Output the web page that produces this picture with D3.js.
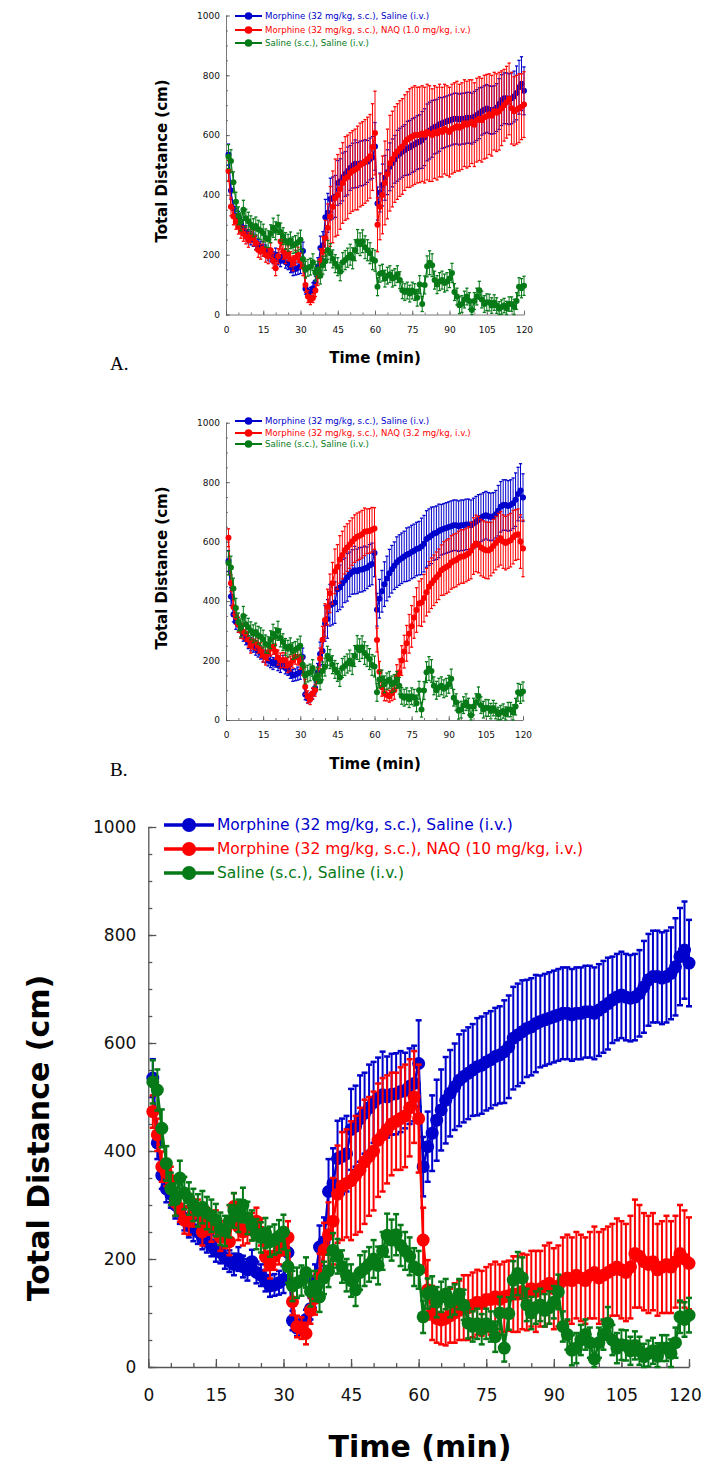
<!DOCTYPE html>
<html>
<head>
<meta charset="utf-8">
<script src="https://cdn.jsdelivr.net/npm/d3@7"></script>
<style>
  body { margin: 0; background: #fff; }
  svg { display: block; }
  text { font-family: "DejaVu Sans", sans-serif; }
</style>
</head>
<body>
<div id="chart"></div>
<script>
// minutes of the session, one bin per minute
var minutes = d3.range(1, 121);

var blueMean = [535,415,355,330,320,300,290,275,262,255,
  250,240,232,225,215,212,202,196,190,200,
  186,180,195,175,170,160,150,152,156,162,
  212,86,72,76,88,108,160,222,232,325,
  340,386,390,395,440,446,460,470,480,490,
  498,504,500,505,506,510,512,520,525,562,
  371,408,433,457,476,494,507,519,531,538,
  544,550,556,559,565,569,575,578,584,593,
  609,615,621,627,630,636,640,643,646,649,
  652,655,655,652,655,655,658,658,655,661,
  667,673,680,685,689,685,683,685,692,704,
  717,723,723,720,723,729,741,760,772,748];
var blueSem = [35,30,25,25,25,25,25,22,22,22,
  22,22,20,20,20,20,20,20,20,22,
  20,20,22,20,20,20,20,20,22,25,
  30,18,15,15,18,20,30,40,45,60,
  65,70,70,70,75,75,80,75,80,75,
  75,80,75,75,75,75,70,70,70,80,
  55,65,70,75,75,80,80,80,85,85,
  85,85,90,90,90,90,90,90,95,95,
  95,95,95,90,90,90,85,85,85,85,
  85,85,85,85,85,85,85,85,85,85,
  85,85,80,80,80,80,80,80,80,85,
  85,85,85,85,85,85,90,90,90,80];

var greenMean = [528,513,442,377,330,310,350,322,312,300,
  290,296,285,280,272,256,252,270,290,280,
  300,276,262,246,240,248,232,236,242,250,
  186,150,156,160,175,140,150,130,165,178,
  216,205,186,170,160,143,175,182,190,200,
  188,215,244,235,245,225,215,205,185,180,
  93,136,140,120,130,135,120,125,135,115,
  81,75,80,70,80,75,56,100,35,99,
  161,173,165,115,100,110,115,105,110,120,
  139,75,60,31,35,50,60,45,15,45,
  60,81,50,35,41,40,30,40,30,19,
  25,30,20,35,35,25,45,93,88,96];
var greenSem = [40,38,35,32,30,30,32,30,30,30,
  30,30,30,30,30,30,28,30,32,30,
  32,30,28,28,28,28,28,28,30,32,
  30,28,28,28,28,28,28,28,30,30,
  32,32,30,30,30,30,32,32,32,35,
  35,35,40,38,38,38,35,35,35,35,
  30,28,28,28,28,28,28,28,28,28,
  28,28,28,28,28,28,28,30,25,30,
  35,40,38,30,30,30,30,30,30,30,
  32,28,28,28,28,28,28,28,25,28,
  28,30,28,28,28,28,26,26,26,24,
  24,24,24,24,24,26,28,30,32,32];

// NAQ 1.0 mg/kg (panel A)
var naq1Mean = [480,360,328,310,294,280,270,261,250,265,
  255,240,216,210,220,200,195,215,180,155,
  195,244,210,195,205,185,171,190,200,180,
  160,99,60,48,55,80,127,180,210,255,
  290,328,360,390,400,420,440,455,460,473,
  480,485,490,500,505,512,520,529,560,607,
  300,360,400,440,470,506,520,535,545,555,
  562,575,585,590,595,600,600,601,605,600,
  610,605,600,610,605,615,610,620,615,610,
  620,625,630,625,630,640,635,640,645,635,
  650,655,650,660,663,670,665,680,675,680,
  690,700,710,721,690,680,685,690,695,702];
var naq1Sem = [35,30,28,25,25,25,25,25,25,25,
  25,25,25,25,25,25,25,25,25,25,
  25,25,25,25,25,25,25,25,25,25,
  30,25,20,15,15,20,30,40,50,60,
  80,100,120,130,135,135,135,140,140,135,
  135,135,140,140,140,140,140,140,145,140,
  90,110,130,140,150,160,160,160,160,160,
  160,160,160,165,165,165,160,160,160,160,
  160,160,155,155,155,155,150,150,150,150,
  150,150,150,145,145,145,145,145,140,140,
  140,140,140,140,140,135,135,130,130,130,
  125,120,120,120,120,115,115,115,110,110];

// NAQ 3.2 mg/kg (panel B)
var naq32Mean = [613,460,380,347,320,300,297,290,270,250,
  263,260,250,235,220,210,225,240,246,230,
  210,200,202,200,185,190,200,213,210,195,
  180,112,78,70,90,100,150,207,270,336,
  380,426,460,500,515,540,555,571,580,590,
  600,610,616,620,625,633,635,636,640,644,
  269,162,110,90,84,80,90,100,146,160,
  200,230,258,290,315,345,370,392,395,410,
  430,448,460,470,480,490,504,510,515,520,
  530,535,538,545,550,550,555,560,570,585,
  594,590,580,575,571,570,575,585,595,605,
  611,600,595,600,605,615,622,625,600,577];
var naq32Sem = [30,28,25,25,25,25,25,25,25,25,
  25,25,25,25,25,25,25,25,25,25,
  25,25,25,25,25,25,25,25,25,25,
  30,25,20,18,18,20,25,35,45,55,
  60,65,70,75,75,80,80,80,80,80,
  80,80,80,80,80,80,75,75,75,70,
  40,35,30,25,20,20,25,30,40,45,
  50,55,60,65,70,70,75,75,80,80,
  80,85,85,85,85,85,85,90,90,90,
  90,90,90,90,90,90,90,90,95,95,
  95,95,95,95,95,95,90,90,90,90,
  90,90,90,90,90,90,85,85,90,95];

// NAQ 10 mg/kg (panel C)
var naq10Mean = [473,430,371,360,346,305,294,272,270,285,
  285,250,270,257,265,240,245,232,297,260,
  250,254,260,270,250,204,189,205,215,232,
  240,121,75,72,62,105,127,170,217,245,
  270,320,335,340,345,355,365,380,390,400,
  420,430,440,450,455,460,465,480,500,460,
  235,143,100,90,87,90,95,100,105,110,
  110,115,120,118,125,125,130,125,130,132,
  135,135,140,138,145,140,145,150,155,145,
  150,160,165,160,170,165,160,170,175,165,
  170,175,180,185,180,175,185,210,205,195,
  190,195,180,185,190,185,195,210,200,192];
var naq10Sem = [30,30,28,25,25,25,25,25,25,25,
  25,25,25,25,25,25,25,25,25,25,
  25,25,25,25,25,25,25,25,25,25,
  30,25,20,20,20,25,30,40,50,60,
  80,90,100,100,110,110,115,115,110,110,
  105,105,100,95,90,95,95,90,85,100,
  60,55,50,45,45,50,50,55,55,60,
  60,60,60,60,60,65,65,65,65,65,
  70,70,70,70,70,75,70,75,75,75,
  75,80,80,80,80,80,80,80,85,85,
  85,85,85,90,90,90,95,100,95,90,
  90,90,85,85,90,85,85,90,90,85];

var yTicks = [0, 200, 400, 600, 800, 1000];
var xTicks = [0, 15, 30, 45, 60, 75, 90, 105, 120];

var blueLabel = "Morphine (32 mg/kg, s.c.), Saline (i.v.)";
var greenLabel = "Saline (s.c.), Saline (i.v.)";
var redLabels = ["Morphine (32 mg/kg, s.c.), NAQ (1.0 mg/kg, i.v.)",
  "Morphine (32 mg/kg, s.c.), NAQ (3.2 mg/kg, i.v.)",
  "Morphine (32 mg/kg, s.c.), NAQ (10 mg/kg, i.v.)"];

var BLUE = "#0000cc", RED = "#ff0000", GREEN = "#067a17";

var svg = d3.select("#chart").append("svg")
  .attr("width", 703).attr("height", 1465);

function drawPanel(p, redMean, redSem, redLabel) {
  var x = d3.scaleLinear().domain([0, 120]).range([p.left, p.right]);
  var y = d3.scaleLinear().domain([0, 1000]).range([p.bottom, p.top]);
  var g = svg.append("g");

  // minor ticks first
  g.append("g").attr("transform", "translate(" + p.left + ",0)")
    .call(d3.axisLeft(y).tickValues(d3.range(0, 1001, 50)).tickSize(-p.minor).tickSizeOuter(0).tickFormat(""))
    .call(a => a.select(".domain").remove());
  g.append("g").attr("transform", "translate(0," + p.bottom + ")")
    .call(d3.axisBottom(x).tickValues(d3.range(0, 121, 5)).tickSize(-p.minor).tickSizeOuter(0).tickFormat(""))
    .call(a => a.select(".domain").remove());

  var ya = g.append("g").attr("transform", "translate(" + p.left + ",0)")
    .call(d3.axisLeft(y).tickValues(yTicks).tickSize(-p.major).tickSizeOuter(0)
      .tickPadding(p.ypad).tickFormat(d3.format("d")));
  var xa = g.append("g").attr("transform", "translate(0," + p.bottom + ")")
    .call(d3.axisBottom(x).tickValues(xTicks).tickSize(-p.major).tickSizeOuter(0)
      .tickPadding(p.xpad).tickFormat(d3.format("d")));
  g.selectAll(".tick line, .domain").attr("stroke", "#555").attr("stroke-width", p.axisW);
  ya.selectAll("text").style("font-size", p.tickFs + "px").attr("fill", "#111");
  xa.selectAll("text").style("font-size", p.tickFs + "px").attr("fill", "#111");
  if (p.lastDx) xa.selectAll("text").filter(d => d === 120).attr("dx", p.lastDx);

  var series = [
    {mean: blueMean, sem: blueSem, color: BLUE},
    {mean: redMean, sem: redSem, color: RED},
    {mean: greenMean, sem: greenSem, color: GREEN}
  ];
  var line = d3.line().x((d, i) => x(minutes[i])).y(d => y(d));

  series.forEach(function(s) {
    var sg = g.append("g");
    var pts = minutes.map((m, i) => ({t: m, v: s.mean[i], e: s.sem[i]}));
    var eb = sg.selectAll(".eb").data(pts).enter().append("g");
    eb.append("line")
      .attr("x1", d => x(d.t)).attr("x2", d => x(d.t))
      .attr("y1", d => y(d.v + d.e)).attr("y2", d => y(Math.max(0, d.v - d.e)))
      .attr("stroke", s.color).attr("stroke-width", p.barW);
    eb.append("line")
      .attr("x1", d => x(d.t) - p.cap).attr("x2", d => x(d.t) + p.cap)
      .attr("y1", d => y(d.v + d.e)).attr("y2", d => y(d.v + d.e))
      .attr("stroke", s.color).attr("stroke-width", p.capW);
    eb.append("line")
      .attr("x1", d => x(d.t) - p.cap).attr("x2", d => x(d.t) + p.cap)
      .attr("y1", d => y(Math.max(0, d.v - d.e))).attr("y2", d => y(Math.max(0, d.v - d.e)))
      .attr("stroke", s.color).attr("stroke-width", p.capW);
    sg.append("path").datum(s.mean)
      .attr("fill", "none").attr("stroke", s.color).attr("stroke-width", p.lineW)
      .attr("d", line);
    sg.selectAll("circle").data(pts).enter().append("circle")
      .attr("cx", d => x(d.t)).attr("cy", d => y(d.v)).attr("r", p.r)
      .attr("fill", s.color);
  });

  // legend
  var labels = [blueLabel, redLabel, greenLabel];
  var colors = [BLUE, RED, GREEN];
  labels.forEach(function(lab, i) {
    var ly = p.legY[i];
    g.append("line").attr("x1", p.legX[0]).attr("x2", p.legX[1])
      .attr("y1", ly).attr("y2", ly).attr("stroke", colors[i]).attr("stroke-width", p.legW);
    g.append("circle").attr("cx", (p.legX[0] + p.legX[1]) / 2).attr("cy", ly)
      .attr("r", p.legR).attr("fill", colors[i]);
    g.append("text").attr("x", p.legX[1] + 3).attr("y", ly).attr("dy", "0.35em")
      .style("font-size", p.legFs + "px").attr("fill", colors[i]).text(lab);
  });

  // axis titles
  g.append("text")
    .attr("transform", "translate(" + p.yTitle[0] + "," + p.yTitle[1] + ") rotate(-90)")
    .attr("text-anchor", "middle").attr("dy", "0.35em")
    .style("font-size", p.titleFs + "px").style("font-weight", "bold")
    .text("Total Distance (cm)");
  g.append("text")
    .attr("x", p.xTitle[0]).attr("y", p.xTitle[1])
    .attr("text-anchor", "middle")
    .style("font-size", p.titleFs + "px").style("font-weight", "bold")
    .text("Time (min)");
  if (p.tag) {
    g.append("text").attr("x", p.tag[0]).attr("y", p.tag[1])
      .style("font-family", "'Liberation Serif', serif").style("font-size", "19px")
      .text(p.tag[2]);
  }
}

var small = {minor: 2, major: 4, axisW: 0.8, ypad: 6, xpad: 12, tickFs: 9,
  barW: 1, capW: 1.3, cap: 1.6, lineW: 1.2, r: 3,
  legX: [235, 262], legW: 2, legR: 3.8, legFs: 8.6, titleFs: 15, left: 226, right: 524};

drawPanel(Object.assign({}, small, {top: 15.5, bottom: 314.5,
  legY: [16, 30, 43], yTitle: [162, 161], xTitle: [375, 363], tag: [110, 370, "A."]}),
  naq1Mean, naq1Sem, redLabels[0]);

drawPanel(Object.assign({}, small, {top: 422.7, bottom: 720, right: 523,
  legY: [421, 433, 444], yTitle: [162, 568], xTitle: [375, 769], tag: [110, 776, "B."]}),
  naq32Mean, naq32Sem, redLabels[1]);

drawPanel({left: 148.3, right: 689, top: 827, bottom: 1367,
  minor: 4, major: 8, axisW: 1.3, ypad: 12, xpad: 22, tickFs: 17, lastDx: -4,
  barW: 2, capW: 2.5, cap: 3, lineW: 2.5, r: 6.5,
  legX: [164, 214], legW: 3.5, legR: 7, legFs: 15.5, legY: [825, 849, 873],
  titleFs: 30, yTitle: [38, 1138], xTitle: [420, 1457]},
  naq10Mean, naq10Sem, redLabels[2]);
</script>
</body>
</html>
